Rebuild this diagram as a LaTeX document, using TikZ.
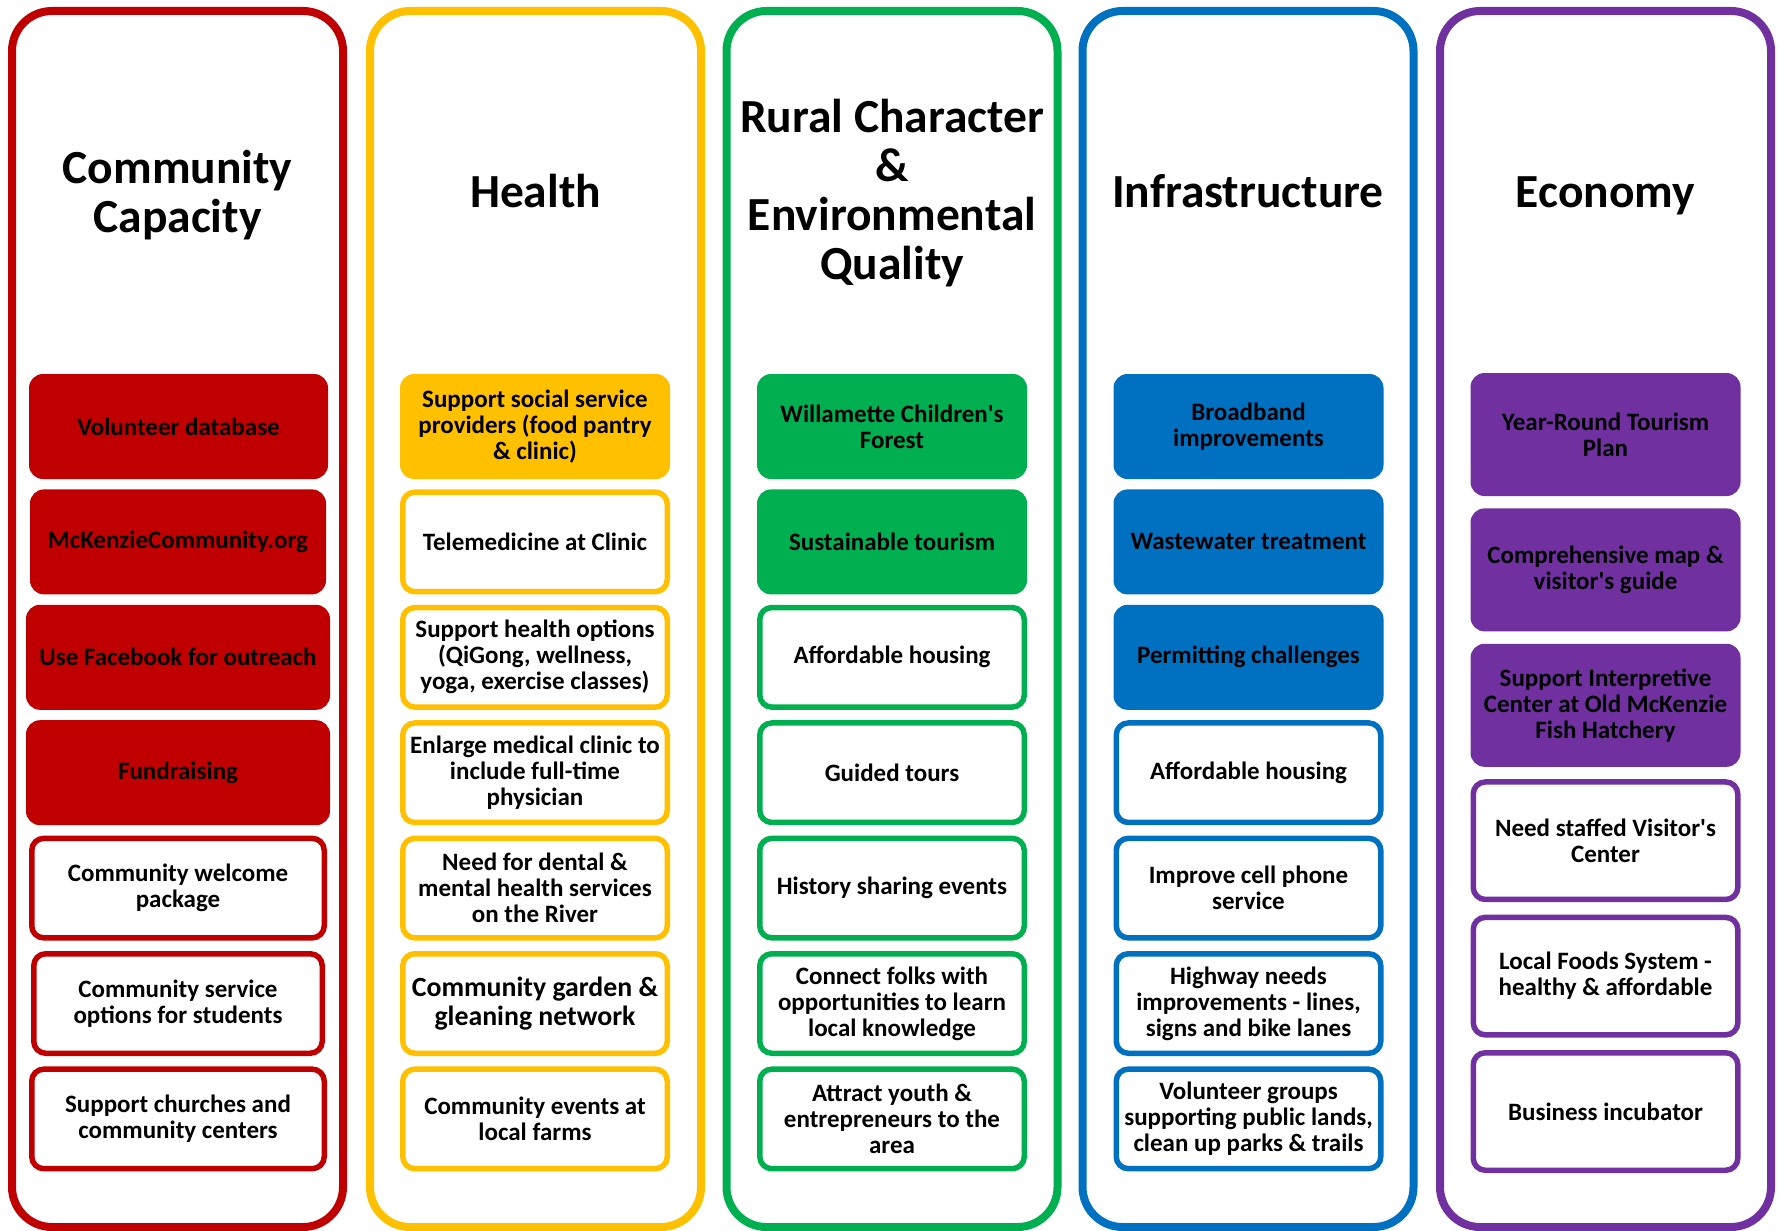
\documentclass[tikz,border=0pt]{standalone}
\usepackage{fontspec}
\setmainfont{Carlito}
\definecolor{cred}{HTML}{C00000}
\definecolor{cyel}{HTML}{FFC000}
\definecolor{cgrn}{HTML}{00B050}
\definecolor{cblu}{HTML}{0070C0}
\definecolor{cpur}{HTML}{7030A0}
\newcommand{\sq}{\textquotesingle}
\tikzset{
  colframe/.style={draw=#1, line width=4pt, rounded corners=20pt, fill=white,
    minimum width=165.5pt, minimum height=608pt, inner sep=0pt},
  coltitle/.style={align=center, font=\fontsize{23.75}{24.5}\selectfont\bfseries, inner sep=0pt},
  fbox/.style={fill=#1, draw=none, rounded corners=7pt, minimum width=135pt, minimum height=52.5pt,
    align=center, inner sep=0pt, font=\fontsize{12.5}{13}\selectfont\bfseries},
  wbox/.style={fill=white, draw=#1, line width=2.75pt, rounded corners=6pt, minimum width=132.25pt, minimum height=49.75pt,
    align=center, inner sep=0pt, font=\fontsize{12.5}{13}\selectfont\bfseries},
  tall/.style={minimum height=61.5pt},
  tallw/.style={minimum height=58.75pt},
}
\begin{document}
\begin{tikzpicture}[x=0.5pt,y=-0.5pt]
\fill[white] (0,0) rectangle (1780,1230);
\useasboundingbox (0,0) rectangle (1780,1230);

% column frames
\node[colframe=cred] (col1) at (177.5,619) {};
\node[colframe=cyel] (col2) at (535.5,619) {};
\node[colframe=cgrn] (col3) at (892,619) {};
\node[colframe=cblu] (col4) at (1248,619) {};
\node[colframe=cpur] (col5) at (1605.5,619) {};

% titles
\node[coltitle] (t1) at (177.5,195) {Community\\Capacity};
\node[coltitle, anchor=base] (t2) at (535.5,207) {Health};
\node[coltitle] (t3) at (892,193) {Rural Character\\\&\\Environmental\\Quality};
\node[coltitle, anchor=base] (t4) at (1248,207) {Infrastructure};
\node[coltitle, anchor=base] (t5) at (1605.5,207) {Economy};

% column 1
\node[fbox=cred, minimum width=149.5pt] (a1) at (178.5,426.5) {Volunteer database};
\node[fbox=cred, minimum width=148pt] (a2) at (178,541.9) {McKenzieCommunity.org};
\node[fbox=cred, minimum width=152pt] (a3) at (178,657.3) {Use Facebook for outreach};
\node[fbox=cred, minimum width=152pt] (a4) at (178,772.7) {Fundraising};
\node[wbox=cred, minimum width=146.25pt] (a5) at (178,888.1) {Community welcome\\package};
\node[wbox=cred, minimum width=144.25pt] (a6) at (178,1003.5) {Community service\\options for students};
\node[wbox=cred, minimum width=146.25pt] (a7) at (178,1118.9) {Support churches and\\community centers};

% column 2
\node[fbox=cyel] (b1) at (535,426.5) {Support social service\\providers (food pantry\\\& clinic)};
\node[wbox=cyel] (b2) at (535,541.9) {Telemedicine at Clinic};
\node[wbox=cyel] (b3) at (535,657.3) {Support health options\\(QiGong, wellness,\\yoga, exercise classes)};
\node[wbox=cyel] (b4) at (535,772.7) {Enlarge medical clinic to\\include full-time\\physician};
\node[wbox=cyel] (b5) at (535,888.1) {Need for dental \&\\mental health services\\on the River};
\node[wbox=cyel, font=\fontsize{13.9}{14.2}\selectfont\bfseries] (b6) at (535,1003.5) {Community garden \&\\gleaning network};
\node[wbox=cyel] (b7) at (535,1118.9) {Community events at\\local farms};

% column 3
\node[fbox=cgrn] (c1) at (892,426.5) {Willamette Children\sq s\\Forest};
\node[fbox=cgrn] (c2) at (892,541.9) {Sustainable tourism};
\node[wbox=cgrn] (c3) at (892,657.3) {Affordable housing};
\node[wbox=cgrn] (c4) at (892,772.7) {Guided tours};
\node[wbox=cgrn] (c5) at (892,888.1) {History sharing events};
\node[wbox=cgrn] (c6) at (892,1003.5) {Connect folks with\\opportunities to learn\\local knowledge};
\node[wbox=cgrn] (c7) at (892,1118.9) {Attract youth \&\\entrepreneurs to the\\area};

% column 4
\node[fbox=cblu] (d1) at (1248.5,426.5) {Broadband\\improvements};
\node[fbox=cblu] (d2) at (1248.5,541.9) {Wastewater treatment};
\node[fbox=cblu] (d3) at (1248.5,657.3) {Permitting challenges};
\node[wbox=cblu] (d4) at (1248.5,772.7) {Affordable housing};
\node[wbox=cblu] (d5) at (1248.5,888.1) {Improve cell phone\\service};
\node[wbox=cblu] (d6) at (1248.5,1003.5) {Highway needs\\improvements - lines,\\signs and bike lanes};
\node[wbox=cblu] (d7) at (1248.5,1118.9) {Volunteer groups\\supporting public lands,\\clean up parks \& trails};

% column 5
\node[fbox=cpur, tall] (e1) at (1605.5,434.5) {Year-Round Tourism\\Plan};
\node[fbox=cpur, tall] (e2) at (1605.5,569.9) {Comprehensive map \&\\visitor\sq s guide};
\node[fbox=cpur, tall] (e3) at (1605.5,705.3) {Support Interpretive\\Center at Old McKenzie\\Fish Hatchery};
\node[wbox=cpur, tallw] (e4) at (1605.5,840.7) {Need staffed Visitor\sq s\\Center};
\node[wbox=cpur, tallw] (e5) at (1605.5,976.1) {Local Foods System -\\healthy \& affordable};
\node[wbox=cpur, tallw] (e6) at (1605.5,1111.5) {Business incubator};
\end{tikzpicture}
\end{document}
